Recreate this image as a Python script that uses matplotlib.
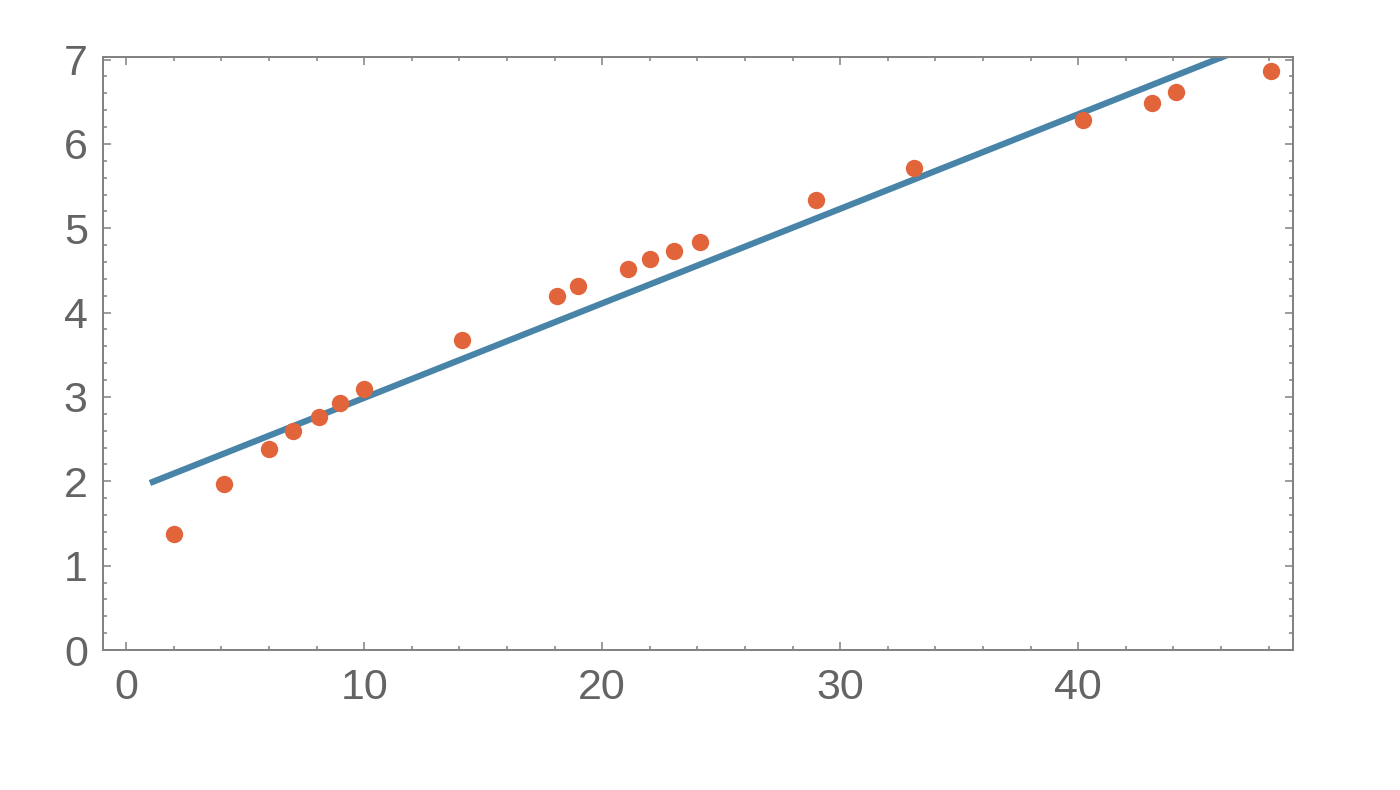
import matplotlib
matplotlib.use("Agg")
import matplotlib.pyplot as plt
from matplotlib.ticker import MultipleLocator

# data points
x_pts = [2.0, 4.1, 6.0, 7.0, 8.1, 9.0, 10.0, 14.1, 18.1, 19.0, 21.1, 22.0,
         23.0, 24.1, 29.0, 33.1, 40.2, 43.1, 44.1, 48.1]
y_pts = [1.38, 1.97, 2.38, 2.60, 2.76, 2.93, 3.10, 3.67, 4.20, 4.31, 4.52, 4.63,
         4.73, 4.84, 5.33, 5.71, 6.28, 6.49, 6.61, 6.87]

# fitted line endpoints
fit_x = [1.0, 49.0]
fit_y = [1.98, 7.36]

LINE_C = "#4884a8"
DOT_C = "#e2643a"
FRAME_C = "#808080"
TEXT_C = "#646464"

fig = plt.figure(figsize=(14, 7.9), dpi=100)
ax = fig.add_axes([0.0736, 0.1772, 0.85, 0.7506])

ax.plot(fit_x, fit_y, color=LINE_C, lw=4.5, solid_capstyle="butt", zorder=2)
ax.plot(x_pts, y_pts, "o", color=DOT_C, ms=12.5, mec="none", zorder=3)

ax.set_xlim(-0.97, 49.03)
ax.set_ylim(0, 7.03)

ax.xaxis.set_major_locator(MultipleLocator(10))
ax.xaxis.set_minor_locator(MultipleLocator(2))
ax.yaxis.set_major_locator(MultipleLocator(1))
ax.yaxis.set_minor_locator(MultipleLocator(0.2))

ax.tick_params(which="both", direction="in", top=True, right=True,
               color=FRAME_C, labelcolor=TEXT_C, labelsize=31, width=1.1)
ax.tick_params(which="major", length=6)
ax.tick_params(which="minor", length=3)
ax.tick_params(axis="x", which="major", pad=13)
ax.tick_params(axis="y", which="major", pad=11)

for lab in ax.get_xticklabels() + ax.get_yticklabels():
    lab.set_family(["Liberation Sans", "DejaVu Sans"])

for spine in ax.spines.values():
    spine.set_color(FRAME_C)
    spine.set_linewidth(1.4)

fig.savefig("out.png", dpi=100, facecolor="white")
